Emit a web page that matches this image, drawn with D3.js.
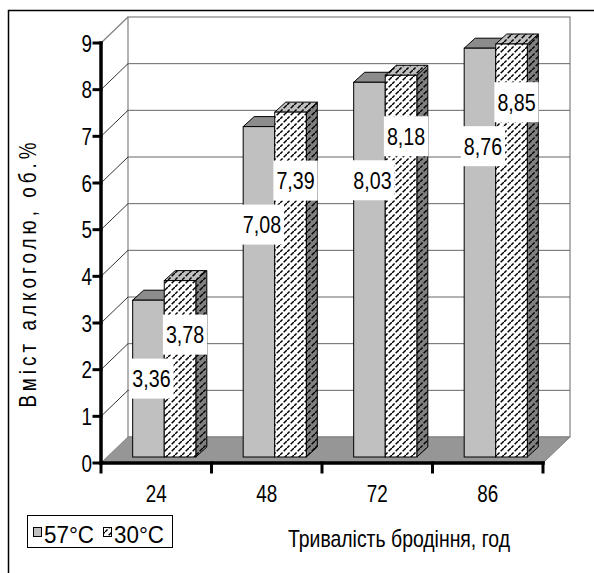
<!DOCTYPE html>
<html>
<head>
<meta charset="utf-8">
<script src="https://cdn.jsdelivr.net/npm/d3@7"></script>
<style>
  html, body { margin: 0; padding: 0; background: #fff; }
  svg { display: block; }
  text { font-family: "Liberation Sans", Arial, sans-serif; fill: #000; }
</style>
</head>
<body>
<div id="chart"></div>
<script>
// chart data
const categories = ["24", "48", "72", "86"];
const seriesNames = ["57°C", "30°C"];
const values57 = [3.36, 7.08, 8.03, 8.76];
const values30 = [3.78, 7.39, 8.18, 8.85];
const yTicks = [0, 1, 2, 3, 4, 5, 6, 7, 8, 9];
const yTitle = "Вміст алкоголю, об.%";
const xTitle = "Тривалість бродіння, год";

const width = 594, height = 573;
const wall = { dx: 27, dy: -26 };   // depth of the whole plot box
const shift = { dx: 8, dy: -6 };    // where the bar fronts sit inside that depth
const depth = { dx: 11, dy: -10 };  // depth of a single bar
const narrow = 0.82;                // no Arial Narrow here, so squeeze Liberation Sans

const fmt = d3.formatLocale({ decimal: ",", thousands: " ", grouping: [3], currency: ["", ""] }).format(".2f");

const svg = d3.select("#chart").append("svg")
  .attr("width", width)
  .attr("height", height);

// text squeezed horizontally around its anchor point
function ntext(parent, x, y, str, size, anchor, rot) {
  return parent.append("text")
    .attr("transform", `translate(${x},${y})` + (rot ? ` rotate(${rot})` : "") + ` scale(${narrow},1)`)
    .attr("text-anchor", anchor || "start")
    .attr("font-size", size)
    .text(str);
}

const defs = svg.append("defs");
function hatch(id, bg) {
  const p = defs.append("pattern")
    .attr("id", id)
    .attr("patternUnits", "userSpaceOnUse")
    .attr("width", 7).attr("height", 7);
  p.append("rect").attr("width", 7).attr("height", 7).attr("fill", bg);
  p.append("path")
    .attr("d", "M-1,8 L8,-1 M-4.5,4.5 L4.5,-4.5 M2.5,11.5 L11.5,2.5")
    .attr("stroke", "#000").attr("stroke-width", 1.5)
    .attr("stroke-dasharray", "5,1.6");
}
hatch("hatchFront", "#fff");
hatch("hatchTop", "#c0c0c0");
hatch("hatchSide", "#808080");

// outer frame (runs off the right and bottom edge like the original)
svg.append("rect")
  .attr("x", 8.5).attr("y", 10.5)
  .attr("width", 640).attr("height", 640)
  .attr("fill", "none").attr("stroke", "#000").attr("stroke-width", 1.5);

const y = d3.scaleLinear().domain([0, 9]).range([463, 43]);
const x0 = d3.scaleBand().domain(categories).range([101, 543]);
const x1 = d3.scaleBand().domain(seriesNames).range([0, x0.bandwidth()]).paddingOuter(0.75);

const xl = x0.range()[0], xr = x0.range()[1];

// back wall
svg.append("rect")
  .attr("x", xl + wall.dx).attr("y", y(9) + wall.dy)
  .attr("width", xr - xl).attr("height", y(0) - y(9))
  .attr("fill", "#fff").attr("stroke", "#808080").attr("stroke-width", 1.2);

// gridlines on back wall and left wall
const grid = svg.append("g");
yTicks.filter(t => t > 0 && t < 9).forEach(t => {
  grid.append("line")
    .attr("x1", xl + wall.dx).attr("x2", xr + wall.dx)
    .attr("y1", y(t) + wall.dy).attr("y2", y(t) + wall.dy)
    .attr("stroke", "#666").attr("stroke-width", 1);
});
yTicks.filter(t => t > 0).forEach(t => {
  grid.append("line")
    .attr("x1", xl).attr("y1", y(t))
    .attr("x2", xl + wall.dx).attr("y2", y(t) + wall.dy)
    .attr("stroke", t === 9 ? "#808080" : "#000").attr("stroke-width", t === 9 ? 1.2 : 0.8);
});

// floor
svg.append("polygon")
  .attr("points", [[xl, y(0)], [xr, y(0)], [xr + wall.dx, y(0) + wall.dy], [xl + wall.dx, y(0) + wall.dy]].join(" "))
  .attr("fill", "#969696").attr("stroke", "#808080").attr("stroke-width", 1);

// bars
const series = [
  { name: seriesNames[0], values: values57, front: "#c0c0c0", top: "#8c8c8c", side: "#808080" },
  { name: seriesNames[1], values: values30, front: "url(#hatchFront)", top: "url(#hatchTop)", side: "url(#hatchSide)" }
];
const bars = svg.append("g").attr("stroke", "#000").attr("stroke-width", 1);
categories.forEach((c, i) => {
  series.forEach(s => {
    const v = s.values[i];
    const x = x0(c) + x1(s.name) + shift.dx;
    const w = x1.bandwidth();
    const yt = y(v) + shift.dy, yb = y(0) + shift.dy;
    bars.append("polygon")
      .attr("points", [[x + w, yt], [x + w + depth.dx, yt + depth.dy], [x + w + depth.dx, yb + depth.dy], [x + w, yb]].join(" "))
      .attr("fill", s.side);
    bars.append("polygon")
      .attr("points", [[x, yt], [x + depth.dx, yt + depth.dy], [x + w + depth.dx, yt + depth.dy], [x + w, yt]].join(" "))
      .attr("fill", s.top);
    bars.append("rect")
      .attr("x", x).attr("y", yt)
      .attr("width", w).attr("height", yb - yt)
      .attr("fill", s.front);
  });
});

// axes
const axes = svg.append("g").attr("stroke", "#000").attr("stroke-linecap", "square");
axes.append("line").attr("x1", xl).attr("x2", xl).attr("y1", y(9)).attr("y2", y(0)).attr("stroke-width", 3.5);
axes.append("line").attr("x1", xl).attr("x2", xr).attr("y1", y(0)).attr("y2", y(0)).attr("stroke-width", 3.5);
yTicks.forEach(t => {
  axes.append("line").attr("x1", xl - 7).attr("x2", xl).attr("y1", y(t)).attr("y2", y(t)).attr("stroke-width", 3);
});
categories.concat(["end"]).forEach((c, i) => {
  const xx = xl + i * x0.step();
  axes.append("line").attr("x1", xx).attr("x2", xx).attr("y1", y(0)).attr("y2", y(0) + 9).attr("stroke-width", 3);
});

const tickLabels = svg.append("g");
yTicks.forEach(t => ntext(tickLabels, xl - 9, y(t) + 8.5, t, 23, "end"));
categories.forEach(c => ntext(tickLabels, x0(c) + x0.bandwidth() / 2, 502, c, 23, "middle"));

// data labels: white boxes, the second series sits one box above the first
const labels = svg.append("g");
function label(str, cx, cy) {
  const g = labels.append("g");
  const t = ntext(g, cx, cy + 8.5, str, 24, "middle");
  const bw = t.node().getBBox().width * narrow;
  g.insert("rect", "text")
    .attr("x", cx - bw / 2 - 3).attr("y", cy - 20)
    .attr("width", bw + 6).attr("height", 40)
    .attr("fill", "#fff");
}
categories.forEach((c, i) => {
  const v1 = values57[i], v2 = values30[i];
  const w = x1.bandwidth();
  const cy1 = y(Math.max(v1 / 2, v1 - 2.1)) + shift.dy;
  const cy2 = cy1 - 44;
  label(fmt(v1), x0(c) + x1(seriesNames[0]) + shift.dx + w / 2 + 3, cy1);
  label(fmt(v2), x0(c) + x1(seriesNames[1]) + shift.dx + w / 2 + 5, cy2);
});

// axis titles
ntext(svg, 36, 275, yTitle, 23, "middle", -90)
  .attr("textLength", 265 / narrow).attr("lengthAdjust", "spacing");

ntext(svg, 399, 547, xTitle, 24, "middle")
  .attr("textLength", 222 / narrow).attr("lengthAdjust", "spacingAndGlyphs");

// legend
const legend = svg.append("g");
legend.append("rect")
  .attr("x", 27.5).attr("y", 515.5).attr("width", 145).attr("height", 32)
  .attr("fill", "#fff").attr("stroke", "#000").attr("stroke-width", 1);
const legendX = [33, 103];
series.forEach((s, i) => {
  legend.append("rect")
    .attr("x", legendX[i] + 0.5).attr("y", 527.5).attr("width", 8).attr("height", 9)
    .attr("fill", i === 0 ? "#c0c0c0" : "url(#hatchFront)")
    .attr("stroke", "#000").attr("stroke-width", 1);
  ntext(legend, legendX[i] + 11, 543, s.name, 23)
    .attr("textLength", 50 / narrow).attr("lengthAdjust", "spacingAndGlyphs");
});
</script>
</body>
</html>
